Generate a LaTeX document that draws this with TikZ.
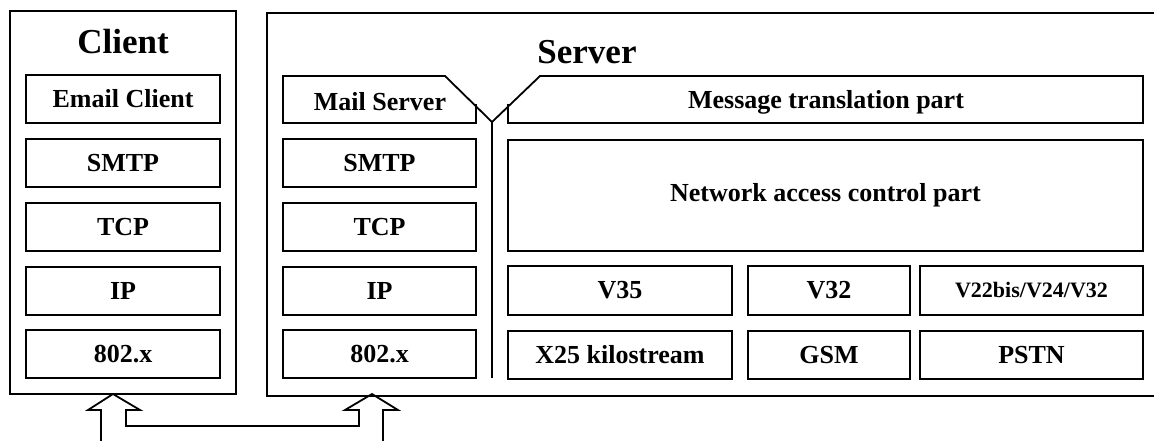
\documentclass[tikz,border=0pt]{standalone}
\usepackage{fontspec}
\setmainfont{Liberation Serif}
\usetikzlibrary{fit}
\tikzset{
  ln/.style={line width=1.8pt, line join=miter},
  lbl/.style={font=\bfseries\fontsize{26}{30}\selectfont, inner sep=0pt},
  slbl/.style={font=\bfseries\fontsize{22}{26}\selectfont, inner sep=0pt},
  box/.style={ln, draw, inner sep=0pt, label={[lbl]center:#1}},
  smallbox/.style={ln, draw, inner sep=0pt, label={[slbl]center:#1}},
  title/.style={font=\bfseries\fontsize{35}{40}\selectfont, inner sep=0pt},
}
\begin{document}
\begin{tikzpicture}[x=1pt, y=-1pt]
\useasboundingbox (0,0) rectangle (1154,440);

% client frame
\node[ln, draw, inner sep=0pt, fit={(10,11) (236,394)}] (client) {};
\node[title] (clientT) at (123,42) {Client};
\node[box=Email Client, fit={(26,75) (220,123)}]  (cEmail) {};
\node[box=SMTP, fit={(26,139) (220,187)}] (cSMTP) {};
\node[box=TCP, fit={(26,203) (220,251)}] (cTCP) {};
\node[box=IP, fit={(26,267) (220,315)}] (cIP) {};
\node[box=802.x, fit={(26,330) (220,378)}] (cMAC) {};

% server frame (runs past the right edge)
\draw[ln] (1160,13) -- (267,13) -- (267,396) -- (1160,396);
\node[title] (serverT) at (587,52) {Server};

% mail server and message translation, joined by the Y-shaped link
\coordinate (yl) at (445,76);
\coordinate (yr) at (540,76);
\coordinate (yj) at (492,122);
\coordinate (ystem) at (492,378);
\draw[ln] (476,104) -- (476,123) -- (283,123) -- (283,76) -- (yl) -- (yj);
\draw[ln] (508,104) -- (508,123) -- (1143,123) -- (1143,76) -- (yr) -- (yj);
\draw[ln] (yj) -- (ystem);
\node[lbl] (mail) at (380,102) {Mail Server};
\node[lbl] (trans) at (826,102) {Message translation part};

% server protocol stack
\node[box=SMTP, fit={(283,139) (476,187)}] (sSMTP) {};
\node[box=TCP, fit={(283,203) (476,251)}] (sTCP) {};
\node[box=IP, fit={(283,267) (476,315)}] (sIP) {};
\node[box=802.x, fit={(283,330) (476,378)}] (sMAC) {};

% network side
\node[box=Network access control part, fit={(508,140) (1143,251)}] (nac) {};
\node[box=V35, fit={(508,266) (732,315)}]  (v35) {};
\node[box=V32, fit={(748,266) (910,315)}]  (v32) {};
\node[smallbox=V22bis/V24/V32, fit={(920,266) (1143,315)}] (v22) {};
\node[box=X25 kilostream, fit={(508,331) (732,379)}]  (x25) {};
\node[box=GSM, fit={(748,331) (910,379)}]  (gsm) {};
\node[box=PSTN, fit={(920,331) (1143,379)}] (pstn) {};

% hollow double arrow linking the two 802.x layers
\draw[ln] (101,445) -- (101,410) -- (88,410) -- (113,394) -- (140,410) -- (126,410)
  -- (126,426) -- (359,426) -- (359,410) -- (345,410) -- (372,394) -- (398,410)
  -- (383,410) -- (383,445);
\end{tikzpicture}
\end{document}
